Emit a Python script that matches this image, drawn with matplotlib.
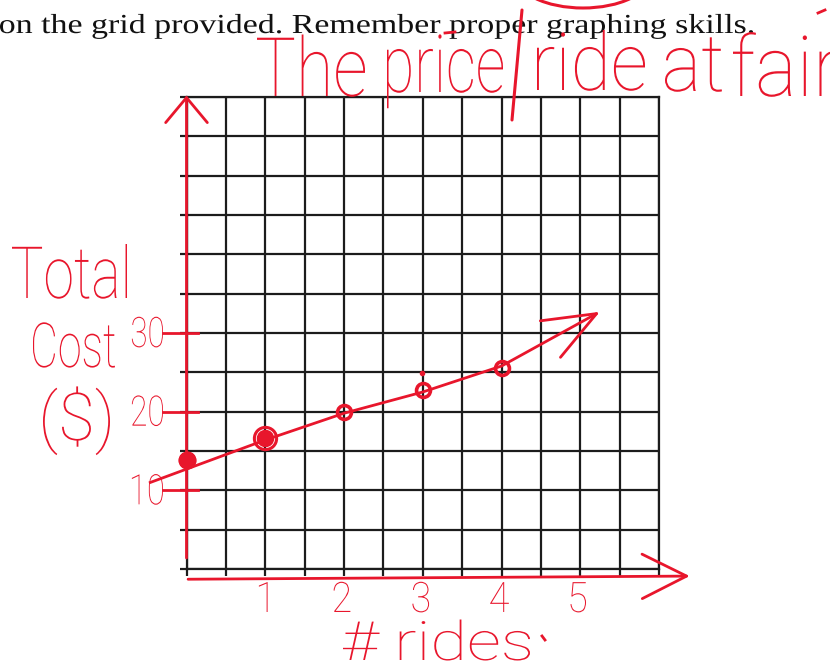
import numpy as np
import matplotlib
matplotlib.use("Agg")
import matplotlib.pyplot as plt
from matplotlib import patches as mpatches
from matplotlib.textpath import TextPath
from matplotlib.font_manager import FontProperties
from matplotlib.transforms import Affine2D

# total cost of going on rides at the fair
rides = [0, 1, 2, 3, 4]
total_cost = [13.8, 16.6, 20.0, 22.8, 25.6]

# hand drawn line through the points, last point is the arrow tip
trend_rides = [-0.46, 0, 1, 2, 3, 4, 5.25]
trend_cost = [11.0, 12.7, 16.4, 19.8, 22.5, 25.8, 32.7]

cost_labels = [10, 20, 30]
ride_labels = [1, 2, 3, 4, 5]

RED = '#e8162c'
INK = '#1c1c1c'
W, H = 830, 667

hand_fp = FontProperties(family=['Roboto', 'DejaVu Sans'], weight='light')
print_fp = FontProperties(family=['Liberation Serif', 'DejaVu Serif'])

fig = plt.figure(figsize=(8.3, 6.67), dpi=100)

# worksheet grid, 12 x 12 squares
ax = fig.add_axes([186.5 / W, 1 - 569 / H, (659 - 186.5) / W, (569 - 97) / H])
ax.set_xlim(0, 6)
ax.set_ylim(0, 60)
ax.set_xticks(np.arange(0, 6.01, 0.5))
ax.set_yticks(np.arange(0, 61, 5))
ax.grid(True, color=INK, lw=1.6)
for s in ax.spines.values():
    s.set_color(INK)
    s.set_linewidth(1.6)
ax.tick_params(length=5, width=1.6, color=INK, labelleft=False, labelbottom=False)

# overlay in pixel units (y down) for the writing on the page
ov = fig.add_axes([0, 0, 1, 1], zorder=10)
ov.set_xlim(0, W)
ov.set_ylim(H, 0)
ov.axis('off')
ov.patch.set_alpha(0)


def to_px(x, y):
    xd, yd = ax.transData.transform((x, y))
    return xd, H - yd


def scrawl(s, x, base, size, width=None, squeeze=1.0, ha='left', color=RED, fp=hand_fp):
    path = TextPath((0, 0), s, size=size, prop=fp)
    bb = path.get_extents()
    sx = width / bb.width if width else squeeze
    w = bb.width * sx
    left = {'left': x, 'center': x - w / 2, 'right': x - w}[ha]
    tr = Affine2D().translate(-bb.x0, 0).scale(sx, -1).translate(left, base)
    ov.add_patch(mpatches.PathPatch(path, transform=tr + ov.transData, fc=color, ec='none', lw=0))


arrow = dict(color=RED, lw=2, mutation_scale=20, shrinkA=0, shrinkB=0)

# axes drawn by hand
ax.annotate('', xy=(0, 60.2), xytext=(0, 1.4), annotation_clip=False,
            arrowprops=dict(arrowstyle='->,head_length=0.9,head_width=0.75', **arrow))
ax.annotate('', xy=(6.39, -0.9), xytext=(0.02, -1.3), annotation_clip=False,
            arrowprops=dict(arrowstyle='->,head_length=1.6,head_width=0.8', **arrow))

# line through the points
ax.plot(trend_rides[:-1], trend_cost[:-1], color=RED, lw=2, clip_on=False, zorder=5)
ax.annotate('', xy=(trend_rides[-1], trend_cost[-1]), xytext=(trend_rides[-2], trend_cost[-2]),
            annotation_clip=False,
            arrowprops=dict(arrowstyle='->,head_length=1.9,head_width=0.75', **arrow))

# plotted points
ax.plot(rides, total_cost, 'o', ms=10, mfc='none', mec=RED, mew=2.6, clip_on=False, zorder=6)
ax.plot(rides[:1], total_cost[:1], 'o', ms=12, color=RED, clip_on=False, zorder=6)
ax.plot(rides[1:2], total_cost[1:2], 'o', ms=16, mfc='none', mec=RED, mew=2.2, clip_on=False, zorder=6)
ax.plot(rides[1:2], total_cost[1:2], 'o', ms=8, color=RED, clip_on=False, zorder=6)

# scale written along the axes
for c in cost_labels:
    ax.plot([-0.3, 0.14], [c, c], color=RED, lw=2, clip_on=False, zorder=5)
    xp, yp = to_px(-0.3, c)
    scrawl(str(c), xp, yp + 14, 42, width=31, ha='right')
for r in ride_labels:
    xp, yp = to_px(r, 0)
    scrawl(str(r), xp - 2, 612, 42, squeeze=0.9, ha='center')

# printed instruction line
scrawl('on the grid provided. Remember proper graphing skills.', 0, 33, 27.5,
       width=753, color='#111111', fp=print_fp)

# title
scrawl('The', 257, 96, 82, width=108)
scrawl('price', 387, 92, 80, width=116)
ov.plot([522, 512], [10, 120], color=RED, lw=2.2, solid_capstyle='round')
scrawl('ride', 537, 90, 80, width=108)
scrawl('at', 665, 91, 80, width=57)
scrawl('fair', 733, 96, 84, width=105)
ov.add_patch(mpatches.Ellipse((583, -25), 135, 66, fill=False, ec=RED, lw=2.2))
ov.plot([445, 455], [33, 32], color=RED, lw=2)
ov.plot([818, 825], [13, 10], color=RED, lw=2)

# y axis caption
scrawl('Total', 12, 298, 72, width=115)
scrawl('Cost', 33, 367, 62, width=82)
scrawl('($)', 43, 440, 66, width=67)

# x axis caption
scrawl('# rides', 343, 660, 54, width=187)
ov.plot([542, 545], [636, 640], color=RED, lw=2)
xp, yp = to_px(3, 24.9)
ov.plot([xp - 1], [yp], 'o', ms=3, color=RED)

fig.savefig('out.png', dpi=100)
